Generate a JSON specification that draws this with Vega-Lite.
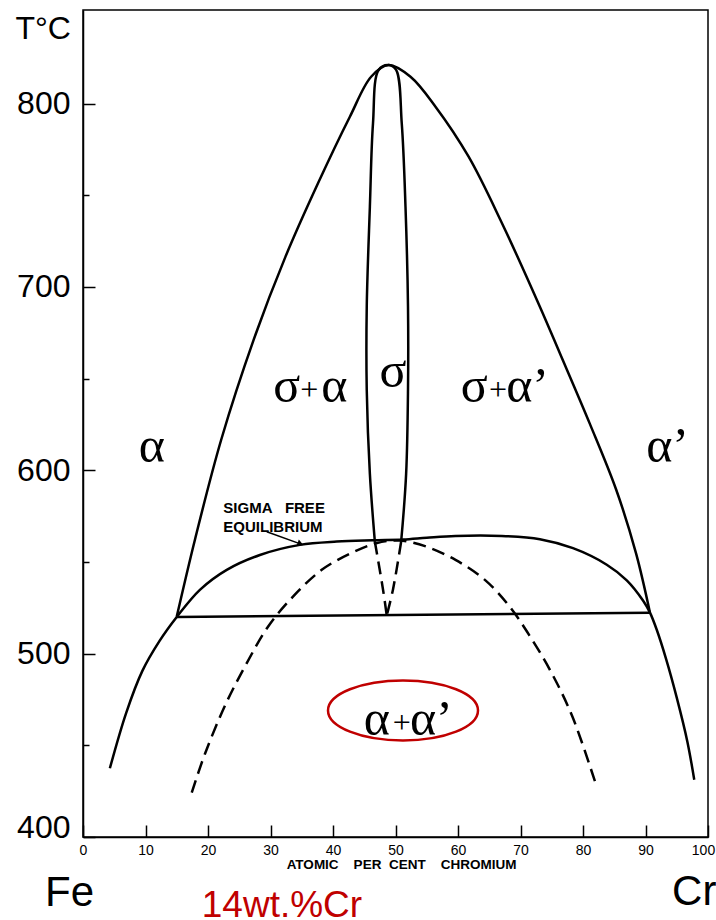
{
  "$schema": "https://vega.github.io/schema/vega-lite/v6.json",
  "width": 625,
  "height": 827,
  "autosize": {"type": "none"},
  "padding": {"left": 83, "top": 10, "right": 8, "bottom": 83},
  "background": "white",
  "config": {"view": {"stroke": "black", "strokeWidth": 1.5}, "font": "Liberation Sans"},
  "datasets": {
    "curves": [
      {"c": "outer", "o": 1, "x": 15.0, "t": 520.2},
      {"c": "outer", "o": 2, "x": 17.9, "t": 562},
      {"c": "outer", "o": 3, "x": 22.1, "t": 616.5},
      {"c": "outer", "o": 4, "x": 27.3, "t": 671.1},
      {"c": "outer", "o": 5, "x": 32.4, "t": 716.5},
      {"c": "outer", "o": 6, "x": 37.6, "t": 756.5},
      {"c": "outer", "o": 7, "x": 42.7, "t": 792.8},
      {"c": "outer", "o": 8, "x": 46.1, "t": 814.6},
      {"c": "outer", "o": 9, "x": 48.9, "t": 821},
      {"c": "outer", "o": 10, "x": 52.4, "t": 814.6},
      {"c": "outer", "o": 11, "x": 56.4, "t": 798.3},
      {"c": "outer", "o": 12, "x": 61.7, "t": 771},
      {"c": "outer", "o": 13, "x": 67.0, "t": 735},
      {"c": "outer", "o": 14, "x": 73.1, "t": 689.2},
      {"c": "outer", "o": 15, "x": 76.3, "t": 663.8},
      {"c": "outer", "o": 16, "x": 81.1, "t": 625.3},
      {"c": "outer", "o": 17, "x": 85.3, "t": 589.5},
      {"c": "outer", "o": 18, "x": 88.5, "t": 554.5},
      {"c": "outer", "o": 19, "x": 90.7, "t": 522.5},
      {"c": "lens", "o": 1, "x": 46.7, "t": 561},
      {"c": "lens", "o": 2, "x": 45.9, "t": 598},
      {"c": "lens", "o": 3, "x": 45.4, "t": 643.8},
      {"c": "lens", "o": 4, "x": 45.4, "t": 689.2},
      {"c": "lens", "o": 5, "x": 45.9, "t": 743.7},
      {"c": "lens", "o": 6, "x": 46.4, "t": 789.2},
      {"c": "lens", "o": 7, "x": 47.3, "t": 818.3},
      {"c": "lens", "o": 8, "x": 48.9, "t": 821},
      {"c": "lens", "o": 9, "x": 50.1, "t": 818.3},
      {"c": "lens", "o": 10, "x": 51.0, "t": 789.2},
      {"c": "lens", "o": 11, "x": 51.6, "t": 743.7},
      {"c": "lens", "o": 12, "x": 52.0, "t": 689.2},
      {"c": "lens", "o": 13, "x": 52.0, "t": 643.8},
      {"c": "lens", "o": 14, "x": 51.7, "t": 598},
      {"c": "lens", "o": 15, "x": 50.9, "t": 561},
      {"c": "eut", "o": 1, "x": 15.0, "t": 520},
      {"c": "eut", "o": 2, "x": 90.7, "t": 522.3},
      {"c": "gap", "o": 1, "x": 4.3, "t": 437.5},
      {"c": "gap", "o": 2, "x": 6.9, "t": 467.6},
      {"c": "gap", "o": 3, "x": 9.5, "t": 490.6},
      {"c": "gap", "o": 4, "x": 12.2, "t": 506.7},
      {"c": "gap", "o": 5, "x": 15.0, "t": 520},
      {"c": "gap", "o": 6, "x": 18.7, "t": 534.8},
      {"c": "gap", "o": 7, "x": 23.0, "t": 545.7},
      {"c": "gap", "o": 8, "x": 28.3, "t": 553.8},
      {"c": "gap", "o": 9, "x": 34.7, "t": 559.3},
      {"c": "gap", "o": 10, "x": 40.6, "t": 561.1},
      {"c": "gap", "o": 11, "x": 46.3, "t": 561.8},
      {"c": "gap", "o": 12, "x": 51.2, "t": 562.2},
      {"c": "gap", "o": 13, "x": 55.0, "t": 563.2},
      {"c": "gap", "o": 14, "x": 59.6, "t": 564.2},
      {"c": "gap", "o": 15, "x": 67.0, "t": 564.2},
      {"c": "gap", "o": 16, "x": 73.1, "t": 562.4},
      {"c": "gap", "o": 17, "x": 78.4, "t": 557.5},
      {"c": "gap", "o": 18, "x": 83.8, "t": 548.5},
      {"c": "gap", "o": 19, "x": 87.0, "t": 540},
      {"c": "gap", "o": 20, "x": 89.6, "t": 529},
      {"c": "gap", "o": 21, "x": 90.7, "t": 522.5},
      {"c": "gap", "o": 22, "x": 91.8, "t": 513},
      {"c": "gap", "o": 23, "x": 93.3, "t": 497},
      {"c": "gap", "o": 24, "x": 95.0, "t": 476},
      {"c": "gap", "o": 25, "x": 96.7, "t": 452},
      {"c": "gap", "o": 26, "x": 97.8, "t": 431.2},
      {"c": "spin", "o": 1, "x": 17.4, "t": 424.2},
      {"c": "spin", "o": 2, "x": 19.55, "t": 445.7},
      {"c": "spin", "o": 3, "x": 22.9, "t": 473},
      {"c": "spin", "o": 4, "x": 26.2, "t": 494.8},
      {"c": "spin", "o": 5, "x": 29.6, "t": 514.7},
      {"c": "spin", "o": 6, "x": 33.6, "t": 531.1},
      {"c": "spin", "o": 7, "x": 38.2, "t": 545.7},
      {"c": "spin", "o": 8, "x": 42.9, "t": 554.8},
      {"c": "spin", "o": 9, "x": 46.9, "t": 560.2},
      {"c": "spin", "o": 10, "x": 50.6, "t": 561.7},
      {"c": "spin", "o": 11, "x": 54.9, "t": 558.4},
      {"c": "spin", "o": 12, "x": 59.6, "t": 551.1},
      {"c": "spin", "o": 13, "x": 64.3, "t": 540.2},
      {"c": "spin", "o": 14, "x": 68.3, "t": 525.5},
      {"c": "spin", "o": 15, "x": 71.6, "t": 509},
      {"c": "spin", "o": 16, "x": 75.0, "t": 489.3},
      {"c": "spin", "o": 17, "x": 78.3, "t": 465.7},
      {"c": "spin", "o": 18, "x": 82.0, "t": 429.4},
      {"c": "lensVL", "o": 1, "x": 46.7, "t": 561},
      {"c": "lensVL", "o": 2, "x": 48.0, "t": 535},
      {"c": "lensVL", "o": 3, "x": 48.6, "t": 520.8},
      {"c": "lensVR", "o": 1, "x": 50.9, "t": 561},
      {"c": "lensVR", "o": 2, "x": 49.6, "t": 535},
      {"c": "lensVR", "o": 3, "x": 48.6, "t": 520.8},
      {"c": "arrow", "o": 1, "x": 29.4, "t": 566.5},
      {"c": "arrow", "o": 2, "x": 35.0, "t": 559.6}
    ],
    "greek": [
      {"s": "σ", "x": 32.6, "t": 637.3},
      {"s": "α", "x": 40.2, "t": 637.3},
      {"s": "σ", "x": 49.6, "t": 645.4},
      {"s": "σ", "x": 62.6, "t": 637.4},
      {"s": "α", "x": 11.0, "t": 604.7},
      {"s": "α", "x": 47.0, "t": 455.7}
    ],
    "greekLeft": [
      {"s": "α’", "x": 67.7, "t": 637.4},
      {"s": "α’", "x": 90.1, "t": 604.7},
      {"s": "α’", "x": 52.3, "t": 455.7}
    ],
    "plus": [
      {"s": "+", "x": 36.2, "t": 643.5},
      {"s": "+", "x": 66.4, "t": 643.5},
      {"s": "+", "x": 51.0, "t": 462.2}
    ],
    "small": [
      {"s": "SIGMA", "x": 22.45, "t": 576.6},
      {"s": "FREE", "x": 32.3, "t": 576.6},
      {"s": "EQUILIBRIUM", "x": 22.45, "t": 566.1}
    ],
    "arrowhead": [{"x": 34.8, "t": 559.8}],
    "ellipse": [{"x": 51.2, "t": 469}],
    "marker": [{"x": 14.8}],
    "corner": [
      {"s": "Fe", "x": -2.16, "t": 362.1},
      {"s": "Cr", "x": 97.8, "t": 363}
    ],
    "redlabel": [{"s": "14wt.%Cr", "x": 19.0, "t": 356.6}]
  },
  "encoding": {
    "x": {
      "field": "x", "type": "quantitative",
      "scale": {"domain": [0, 100], "nice": false, "zero": false},
      "axis": {
        "values": [0, 10, 20, 30, 40, 50, 60, 70, 80, 90, 100],
        "tickSize": -12, "tickColor": "black", "tickWidth": 1.5,
        "domainColor": "black", "domainWidth": 1.5,
        "labelFontSize": 14, "labelFont": "Liberation Sans", "labelColor": "black",
        "labelPadding": 18, "labelFlush": false, "labelOverlap": false, "grid": false,
        "labelOffset": {"condition": {"test": "datum.value === 100", "value": -5}, "value": 0},
        "title": "ATOMIC\u00a0\u00a0\u00a0\u00a0PER\u00a0\u00a0CENT\u00a0\u00a0\u00a0\u00a0CHROMIUM",
        "titleFontSize": 13.5, "titleFontWeight": "bold", "titleFont": "Liberation Sans",
        "titleColor": "black", "titlePadding": 0, "titleX": 318
      }
    },
    "y": {
      "field": "t", "type": "quantitative",
      "scale": {"domain": [400, 851], "nice": false, "zero": false},
      "axis": {
        "values": [400, 450, 500, 550, 600, 650, 700, 750, 800],
        "labelExpr": "datum.value % 100 === 0 ? datum.label : ''",
        "tickSize": {"condition": {"test": "datum.value % 100 === 0", "value": -12}, "value": -6},
        "tickColor": "black", "tickWidth": 1.5,
        "domainColor": "black", "domainWidth": 1.5,
        "labelFontSize": 32, "labelFont": "Liberation Sans", "labelColor": "black",
        "labelPadding": 25, "labelOverlap": false,
        "labelBaseline": {"condition": {"test": "datum.value === 400", "value": "alphabetic"}, "value": "middle"},
        "grid": false,
        "title": "T°C", "titleAngle": 0, "titleFontSize": 32, "titleFontWeight": "normal",
        "titleFont": "Liberation Sans", "titleColor": "black",
        "titleAlign": "left", "titleBaseline": "alphabetic", "titleX": -68, "titleY": 28
      }
    }
  },
  "layer": [
    {
      "data": {"name": "curves"},
      "transform": [{"filter": "indexof(['outer','lens','eut','gap'], datum.c) >= 0"}],
      "mark": {"type": "line", "color": "black", "strokeWidth": 2.5, "interpolate": "catmull-rom"},
      "encoding": {"detail": {"field": "c"}, "order": {"field": "o", "type": "quantitative"}}
    },
    {
      "data": {"name": "curves"},
      "transform": [{"filter": "indexof(['spin','lensVL','lensVR'], datum.c) >= 0"}],
      "mark": {"type": "line", "color": "black", "strokeWidth": 2.5, "strokeDash": [13, 7], "interpolate": "catmull-rom"},
      "encoding": {"detail": {"field": "c"}, "order": {"field": "o", "type": "quantitative"}}
    },
    {
      "data": {"name": "curves"},
      "transform": [{"filter": "datum.c === 'arrow'"}],
      "mark": {"type": "line", "color": "black", "strokeWidth": 1.5},
      "encoding": {"order": {"field": "o", "type": "quantitative"}}
    },
    {
      "data": {"name": "arrowhead"},
      "mark": {"type": "point", "shape": "triangle-right", "size": 50, "filled": true, "color": "black", "opacity": 1, "angle": 20}
    },
    {
      "data": {"name": "ellipse"},
      "mark": {"type": "point", "shape": "M -1 0 A 1 0.4 0 1 1 1 0 A 1 0.4 0 1 1 -1 0 Z", "size": 22500, "filled": false, "color": "#c00000", "strokeWidth": 2.5, "opacity": 1}
    },
    {
      "data": {"name": "marker"},
      "mark": {"type": "rule", "color": "#c00000", "strokeWidth": 4},
      "encoding": {"y": {"datum": 400}, "y2": {"datum": 851}}
    },
    {
      "data": {"name": "greek"},
      "mark": {"type": "text", "font": "Liberation Serif", "fontSize": 50, "align": "center", "baseline": "alphabetic", "color": "black"},
      "encoding": {"text": {"field": "s"}}
    },
    {
      "data": {"name": "greekLeft"},
      "mark": {"type": "text", "font": "Liberation Serif", "fontSize": 50, "align": "left", "baseline": "alphabetic", "color": "black"},
      "encoding": {"text": {"field": "s"}}
    },
    {
      "data": {"name": "plus"},
      "mark": {"type": "text", "font": "Liberation Serif", "fontSize": 32, "align": "center", "baseline": "middle", "color": "black"},
      "encoding": {"text": {"field": "s"}}
    },
    {
      "data": {"name": "small"},
      "mark": {"type": "text", "font": "Liberation Sans", "fontSize": 15, "fontWeight": "bold", "align": "left", "baseline": "alphabetic", "color": "black"},
      "encoding": {"text": {"field": "s"}}
    },
    {
      "data": {"name": "corner"},
      "mark": {"type": "text", "font": "Liberation Sans", "fontSize": 42, "align": "center", "baseline": "alphabetic", "color": "black"},
      "encoding": {"text": {"field": "s"}}
    },
    {
      "data": {"name": "redlabel"},
      "mark": {"type": "text", "font": "Liberation Sans", "fontSize": 37, "align": "left", "baseline": "alphabetic", "color": "#c00000"},
      "encoding": {"text": {"field": "s"}}
    }
  ]
}
